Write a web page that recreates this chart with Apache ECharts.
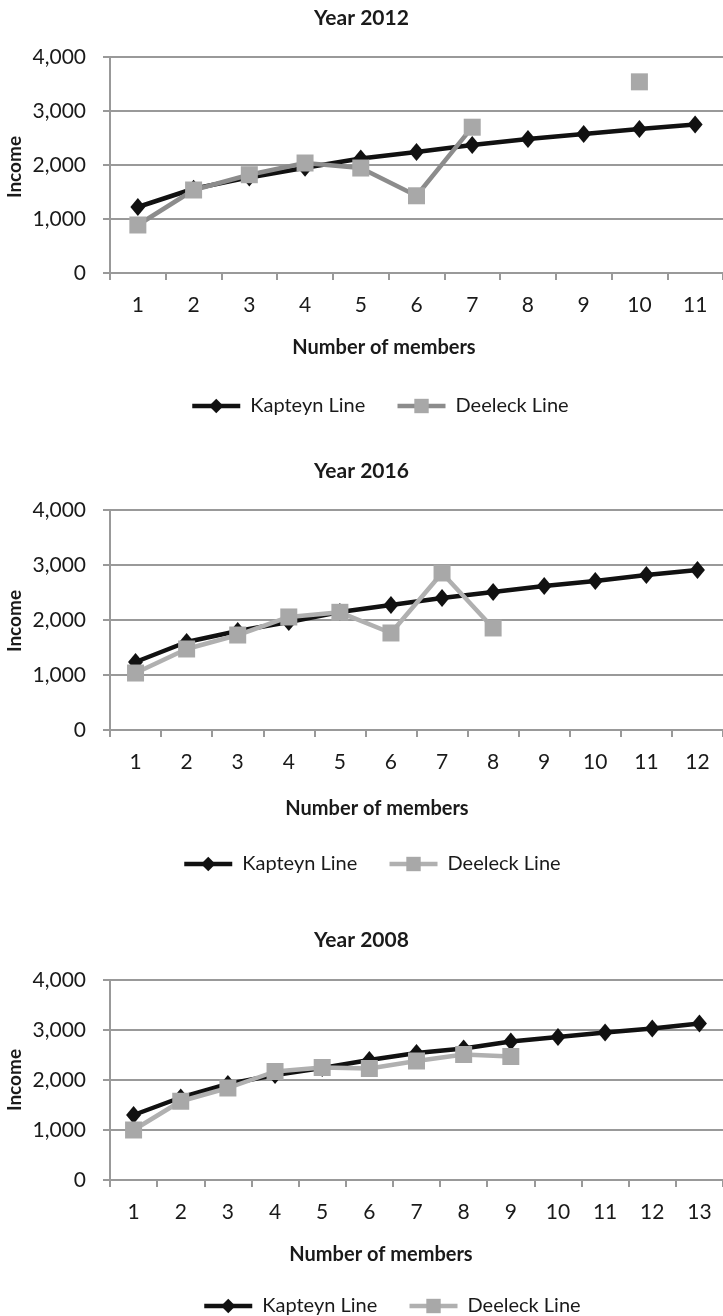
<!DOCTYPE html>
<html>
<head>
<meta charset="utf-8">
<script src="https://cdn.jsdelivr.net/npm/echarts@6/dist/echarts.min.js"></script>
<style>
html,body{margin:0;padding:0;background:#fff;}
.c{position:absolute;left:0;width:723px;}
</style>
</head>
<body>
<div id="c1" class="c" style="top:0;height:440px;"></div>
<div id="c2" class="c" style="top:440px;height:450px;"></div>
<div id="c3" class="c" style="top:890px;height:426px;"></div>
<script>
// ---- data ----
const members2012 = ['1','2','3','4','5','6','7','8','9','10','11'];
const kapteyn2012 = [1222, 1560, 1770, 1950, 2120, 2240, 2370, 2481, 2574, 2667, 2750];
const deeleck2012 = [889, 1537, 1820, 2037, 1944, 1430, 2700, null, null, 3540, null];

const members2016 = ['1','2','3','4','5','6','7','8','9','10','11','12'];
const kapteyn2016 = [1236, 1600, 1800, 1964, 2145, 2273, 2400, 2509, 2618, 2709, 2818, 2909];
const deeleck2016 = [1036, 1473, 1727, 2055, 2140, 1764, 2855, 1855, null, null, null, null];

const members2008 = ['1','2','3','4','5','6','7','8','9','10','11','12','13'];
const kapteyn2008 = [1300, 1650, 1920, 2100, 2240, 2400, 2540, 2630, 2770, 2860, 2950, 3030, 3130];
const deeleck2008 = [1000, 1575, 1840, 2170, 2250, 2230, 2380, 2510, 2470, null, null, null, null];

const yTicks = [0, 1000, 2000, 3000, 4000];

const FONT = 'Lato, "Open Sans", sans-serif';
const GRID = '#999999';

function makeOption(cfg) {
  return {
    animation: false,
    backgroundColor: '#fff',
    title: {
      text: cfg.title, left: 'center', top: cfg.titleY - 12,
      textStyle: {fontFamily: FONT, fontWeight: 'bold', fontSize: 21, color: '#1a1a1a'}
    },
    grid: {left: 110, top: cfg.gridTop, width: cfg.gridWidth, height: cfg.gridHeight, containLabel: false},
    xAxis: {
      type: 'category', data: cfg.cats, boundaryGap: true,
      axisLine: {show: true, lineStyle: {color: GRID, width: 2}},
      axisTick: {show: true, length: 7, alignWithLabel: false, lineStyle: {color: GRID, width: 2}},
      axisLabel: {margin: 22, fontFamily: FONT, fontSize: 21, color: '#1a1a1a'},
      splitLine: {show: false}
    },
    yAxis: {
      type: 'value', min: yTicks[0], max: yTicks[yTicks.length - 1], interval: 1000,
      axisLine: {show: true, lineStyle: {color: GRID, width: 2}},
      axisTick: {show: true, length: 7, lineStyle: {color: GRID, width: 2}},
      axisLabel: {margin: 24, fontFamily: FONT, fontSize: 21, color: '#1a1a1a',
        formatter: v => v.toLocaleString('en-US')},
      splitLine: {show: true, lineStyle: {color: GRID, width: 2}}
    },
    legend: {
      left: cfg.legendLeft, top: cfg.legendY - 10, itemWidth: 48, itemHeight: 18, itemGap: 30,
      lineStyle: {width: 4.5},
      textStyle: {fontFamily: FONT, fontSize: 20, lineHeight: 20, color: '#1a1a1a', padding: [0, 0, 0, 5]},
      data: ['Kapteyn Line', 'Deeleck Line']
    },
    graphic: [
      {type: 'text', x: cfg.nameX, y: cfg.nameY, style: {
        text: 'Number of members', font: 'bold 20px ' + FONT, fill: '#1a1a1a', align: 'center', verticalAlign: 'middle'}},
      {type: 'text', x: 15, y: cfg.incomeY, rotation: Math.PI / 2, style: {
        text: 'Income', font: 'bold 19px ' + FONT, fill: '#1a1a1a', align: 'center', verticalAlign: 'middle'}}
    ],
    series: [
      {
        name: 'Kapteyn Line', type: 'line', data: cfg.kap, z: 2,
        symbol: 'diamond', symbolSize: [15, 18], showSymbol: true,
        lineStyle: {color: '#111', width: 4.5},
        itemStyle: {color: '#111', borderWidth: 0}
      },
      {
        name: 'Deeleck Line', type: 'line', data: cfg.dee, z: 3, connectNulls: false,
        symbol: 'rect', symbolSize: 17, showSymbol: true,
        lineStyle: {color: cfg.deeLine, width: 4.5},
        itemStyle: {color: '#a8a8a8', borderWidth: 0}
      }
    ]
  };
}

const charts = [
  {id: 'c1', title: 'Year 2012', titleY: 15, cats: members2012, kap: kapteyn2012, dee: deeleck2012,
   gridTop: 57, gridHeight: 216, gridWidth: 11 * 56.4, nameX: 384, nameY: 348, legendY: 401, legendLeft: 185,
   incomeY: 167, deeLine: '#8c8c8c'},
  {id: 'c2', title: 'Year 2016', titleY: 28, cats: members2016, kap: kapteyn2016, dee: deeleck2016,
   gridTop: 70, gridHeight: 220, gridWidth: 12 * 51.8, nameX: 377, nameY: 369, legendY: 419, legendLeft: 177,
   incomeY: 181, deeLine: '#b0b0b0'},
  {id: 'c3', title: 'Year 2008', titleY: 47, cats: members2008, kap: kapteyn2008, dee: deeleck2008,
   gridTop: 90, gridHeight: 200, gridWidth: 13 * 47.7, nameX: 381, nameY: 365, legendY: 411, legendLeft: 197,
   incomeY: 190, deeLine: '#b0b0b0'}
];

charts.forEach(cfg => {
  const ch = echarts.init(document.getElementById(cfg.id), null, {renderer: 'canvas'});
  ch.setOption(makeOption(cfg));
});
</script>
</body>
</html>
